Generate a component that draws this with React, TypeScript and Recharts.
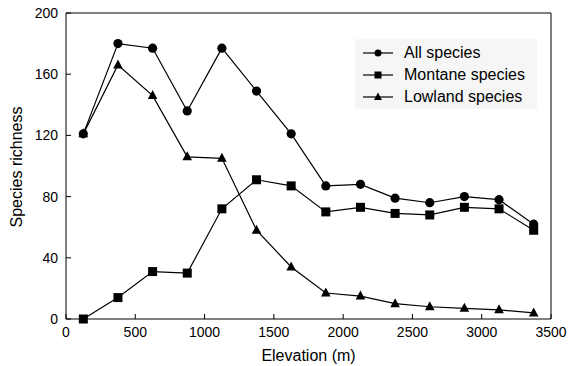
import { LineChart, Line, XAxis, YAxis, Legend, ReferenceLine } from "recharts";

const elevations = [125, 375, 625, 875, 1125, 1375, 1625, 1875, 2125, 2375, 2625, 2875, 3125, 3375];
const allSpecies = [121, 180, 177, 136, 177, 149, 121, 87, 88, 79, 76, 80, 78, 62];
const montaneSpecies = [0, 14, 31, 30, 72, 91, 87, 70, 73, 69, 68, 73, 72, 58];
const lowlandSpecies = [121, 166, 146, 106, 105, 58, 34, 17, 15, 10, 8, 7, 6, 4];
const xTicks = [0, 500, 1000, 1500, 2000, 2500, 3000, 3500];
const yTicks = [0, 40, 80, 120, 160, 200];

const data = elevations.map((e, i) => ({
  elev: e,
  all: allSpecies[i],
  montane: montaneSpecies[i],
  lowland: lowlandSpecies[i],
}));

const FONT = "'Liberation Sans', Arial, sans-serif";

function circleDot(p: any) {
  return <circle key={p.index} cx={p.cx} cy={p.cy} r={4.6} fill="#000" />;
}
function squareDot(p: any) {
  return <rect key={p.index} x={p.cx - 4.5} y={p.cy - 4.5} width={9} height={9} fill="#000" />;
}
function triangleDot(p: any) {
  const { cx, cy } = p;
  return <polygon key={p.index} points={`${cx},${cy - 5.5} ${cx - 4.8},${cy + 3.5} ${cx + 4.8},${cy + 3.5}`} fill="#000" />;
}

function XTick(p: any) {
  return (
    <g>
      <line x1={p.x} y1={p.y} x2={p.x} y2={p.y - 5} stroke="#000" />
      <text x={p.x} y={p.y + 18} textAnchor="middle" fontSize={14} fill="#000" fontFamily={FONT}>
        {p.payload.value}
      </text>
    </g>
  );
}

function YTick(p: any) {
  return (
    <g>
      <line x1={p.x} y1={p.y} x2={p.x + 5} y2={p.y} stroke="#000" />
      <text x={p.x - 8} y={p.y + 5} textAnchor="end" fontSize={14} fill="#000" fontFamily={FONT}>
        {p.payload.value}
      </text>
    </g>
  );
}

function RightTick(p: any) {
  return <line x1={p.x} y1={p.y} x2={p.x - 5} y2={p.y} stroke="#000" />;
}

function YLabel(p: any) {
  const vb = p.viewBox || { x: 0, y: 13, height: 306 };
  const cx = vb.x + 16;
  const cy = vb.y + vb.height / 2 + 1;
  return (
    <text x={cx} y={cy} dy="0.35em" transform={`rotate(-90, ${cx}, ${cy})`} textAnchor="middle"
          fontSize={16} fill="#000" fontFamily={FONT}>
      Species richness
    </text>
  );
}

const legendItems = [
  { name: "All species", dot: "circle" },
  { name: "Montane species", dot: "square" },
  { name: "Lowland species", dot: "triangle" },
];

function LegendBox() {
  return (
    <div style={{ width: 182, height: 70, background: "#f6f6f6", position: "relative", fontFamily: FONT, fontSize: 16, color: "#000" }}>
      {legendItems.map((it, i) => (
        <div key={it.name} style={{ position: "absolute", left: 8, top: 3 + i * 22, height: 22, display: "flex", alignItems: "center", whiteSpace: "nowrap" }}>
          <svg width={30} height={12} style={{ display: "block" }}>
            <line x1={0} y1={6} x2={30} y2={6} stroke="#000" strokeWidth={1.2} />
            {it.dot === "circle" && <circle cx={15} cy={6} r={3.5} fill="#000" />}
            {it.dot === "square" && <rect x={11.5} y={2.5} width={7} height={7} fill="#000" />}
            {it.dot === "triangle" && <polygon points="15,1.5 11,9 19,9" fill="#000" />}
          </svg>
          <span style={{ marginLeft: 11 }}>{it.name}</span>
        </div>
      ))}
    </div>
  );
}

export default function App() {
  return (
    <div style={{ position: "absolute", left: 0, top: 0, width: 569, height: 366, background: "#fff" }}>
      <LineChart width={569} height={366} data={data} margin={{ top: 13, right: 0, left: 0, bottom: 0 }}>
        <XAxis dataKey="elev" type="number" domain={[0, 3500]} ticks={xTicks} tick={XTick}
               tickSize={0} tickMargin={0} height={47} interval={0}
               axisLine={{ stroke: "#000" }} tickLine={false}
               label={{ value: "Elevation (m)", position: "insideBottom", offset: 5, fontSize: 16, fill: "#000", fontFamily: FONT }} />
        <YAxis type="number" domain={[0, 200]} ticks={yTicks} tick={YTick} tickSize={0} tickMargin={0}
               width={66} interval={0} axisLine={{ stroke: "#000" }} tickLine={false} label={YLabel} />
        <YAxis yAxisId="right" orientation="right" type="number" domain={[0, 200]} ticks={yTicks}
               tick={RightTick} tickSize={0} tickMargin={0} width={18} interval={0}
               axisLine={{ stroke: "#000" }} tickLine={false} />
        <ReferenceLine y={200} stroke="#000" ifOverflow="visible" />
        <Legend layout="horizontal" verticalAlign="middle" align="center" content={LegendBox}
                wrapperStyle={{ left: 355, top: 39, width: 182, height: 70 }} />
        <Line type="linear" dataKey="lowland" name="Lowland species" stroke="#000" strokeWidth={1.2}
              dot={triangleDot} activeDot={false} isAnimationActive={false} />
        <Line type="linear" dataKey="montane" name="Montane species" stroke="#000" strokeWidth={1.2}
              dot={squareDot} activeDot={false} isAnimationActive={false} />
        <Line type="linear" dataKey="all" name="All species" stroke="#000" strokeWidth={1.2}
              dot={circleDot} activeDot={false} isAnimationActive={false} />
      </LineChart>
    </div>
  );
}
